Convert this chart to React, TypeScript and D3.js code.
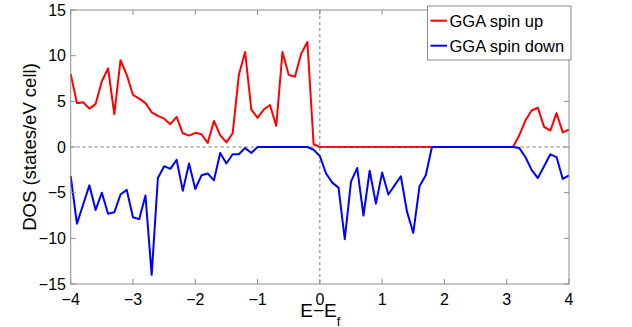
import React from "react";
import * as d3 from "d3";

const energies = [
  -4.0, -3.9, -3.8, -3.7, -3.6, -3.5, -3.4, -3.3, -3.2, -3.1,
  -3.0, -2.9, -2.8, -2.7, -2.6, -2.5, -2.4, -2.3, -2.2, -2.1,
  -2.0, -1.9, -1.8, -1.7, -1.6, -1.5, -1.4, -1.3, -1.2, -1.1,
  -1.0, -0.9, -0.8, -0.7, -0.6, -0.5, -0.4, -0.3, -0.2, -0.1,
  0.0, 0.1, 0.2, 0.3, 0.4, 0.5, 0.6, 0.7, 0.8, 0.9,
  1.0, 1.1, 1.2, 1.3, 1.4, 1.5, 1.6, 1.7, 1.8, 1.9,
  2.0, 2.1, 2.2, 2.3, 2.4, 2.5, 2.6, 2.7, 2.8, 2.9,
  3.0, 3.1, 3.2, 3.3, 3.4, 3.5, 3.6, 3.7, 3.8, 3.9,
  4.0,
];

const spinUp = [
  8.0, 4.8, 4.9, 4.2, 4.7, 7.2, 8.6, 3.6, 9.5, 7.9,
  5.7, 5.3, 4.8, 3.8, 3.4, 3.1, 2.5, 3.3, 1.5, 1.25,
  1.55, 1.4, 0.45, 2.85, 1.3, 0.5, 1.5, 7.9, 10.4, 4.1,
  3.2, 4.1, 4.6, 2.3, 10.4, 7.9, 7.7, 10.2, 11.5, 0.3,
  0, 0, 0, 0, 0, 0, 0, 0, 0, 0,
  0, 0, 0, 0, 0, 0, 0, 0, 0, 0,
  0, 0, 0, 0, 0, 0, 0, 0, 0, 0,
  0, 0, 1.25, 2.9, 4.0, 4.3, 2.2, 1.8, 3.7, 1.6,
  1.9,
];

const spinDown = [
  -3.2, -8.4, -6.3, -4.2, -6.9, -5.0, -7.3, -7.15, -5.2, -4.7,
  -7.7, -7.9, -5.3, -14.0, -3.4, -2.1, -2.4, -1.4, -4.8, -1.8,
  -4.6, -3.1, -2.9, -3.65, -0.65, -1.8, -0.8, -0.8, -0.1, -0.65,
  0, 0, 0, 0, 0, 0, 0, 0, 0, -0.3,
  -1.0, -2.9, -3.9, -4.45, -10.1, -3.8, -2.3, -7.5, -2.6, -6.2,
  -2.8, -5.2, -4.2, -3.2, -7.1, -9.4, -4.3, -3.1, 0, 0,
  0, 0, 0, 0, 0, 0, 0, 0, 0, 0,
  0, 0, -0.1, -1.1, -2.5, -3.4, -2.1, -0.8, -1.1, -3.5,
  -3.1,
];

const xTicks = [-4, -3, -2, -1, 0, 1, 2, 3, 4];
const yTicks = [-15, -10, -5, 0, 5, 10, 15];
const legendLabels = ["GGA spin up", "GGA spin down"];
const seriesColors = ["#ff0000", "#0000ff"];

const W = 632;
const H = 327;
const L = 70.7;
const R = 569;
const T = 10;
const B = 284;
const FONT = "'Liberation Sans', Arial, Helvetica, sans-serif";
const AXIS = "#8c8c8c";

const fmt = (v: number) => (v < 0 ? "\u2212" + Math.abs(v) : String(v));

export default function App() {
  const x = d3.scaleLinear().domain([-4, 4]).range([L, R]);
  const y = d3.scaleLinear().domain([-15, 15]).range([B, T]);
  const line = d3
    .line<number>()
    .x((_, i) => x(energies[i]))
    .y((d) => y(d));
  const tl = 5;

  return (
    <svg
      width={W}
      height={H}
      style={{ position: "absolute", left: 0, top: 0, background: "#fff" }}
      fontFamily={FONT}
    >
      <rect x={0} y={0} width={W} height={H} fill="#fff" />
      <path d={line(spinUp) || ""} fill="none" stroke={seriesColors[0]} strokeWidth={2} strokeLinejoin="round" />
      <line x1={L} x2={R} y1={y(0)} y2={y(0)} stroke="#777" strokeWidth={1} strokeDasharray="3,3" />
      <line x1={x(0)} x2={x(0)} y1={T} y2={B} stroke="#777" strokeWidth={1} strokeDasharray="3,3" />
      <path d={line(spinDown) || ""} fill="none" stroke={seriesColors[1]} strokeWidth={2} strokeLinejoin="round" />

      <rect x={L} y={T} width={R - L} height={B - T} fill="none" stroke={AXIS} strokeWidth={1} />
      {xTicks.map((t) => (
        <g key={"x" + t}>
          <line x1={x(t)} x2={x(t)} y1={B} y2={B - tl} stroke={AXIS} />
          <line x1={x(t)} x2={x(t)} y1={T} y2={T + tl} stroke={AXIS} />
          <text x={x(t)} y={305} fontSize={16} textAnchor="middle" fill="#000">
            {fmt(t)}
          </text>
        </g>
      ))}
      {yTicks.map((t) => (
        <g key={"y" + t}>
          <line x1={L} x2={L + tl} y1={y(t)} y2={y(t)} stroke={AXIS} />
          <line x1={R} x2={R - tl} y1={y(t)} y2={y(t)} stroke={AXIS} />
          <text x={66} y={y(t) + 5.5} fontSize={16} textAnchor="end" fill="#000">
            {fmt(t)}
          </text>
        </g>
      ))}

      <text x={x(0) + 0.5} y={316.7} fontSize={19} textAnchor="middle" fill="#000">
        E{"\u2212"}E<tspan fontSize={13} dy={9}>f</tspan>
      </text>
      <text
        transform={`translate(36, ${(T + B) / 2}) rotate(-90)`}
        fontSize={18.5}
        textAnchor="middle"
        fill="#000"
      >
        DOS (states/eV cell)
      </text>

      <rect x={427.5} y={6} width={143.5} height={54} fill="#fff" stroke={AXIS} strokeWidth={1} />
      {legendLabels.map((lab, i) => (
        <g key={lab}>
          <line x1={430.5} x2={447} y1={20.7 + i * 25} y2={20.7 + i * 25} stroke={seriesColors[i]} strokeWidth={2} />
          <text x={449.5} y={26.5 + i * 25} fontSize={16.5} fill="#000">
            {lab}
          </text>
        </g>
      ))}
    </svg>
  );
}
